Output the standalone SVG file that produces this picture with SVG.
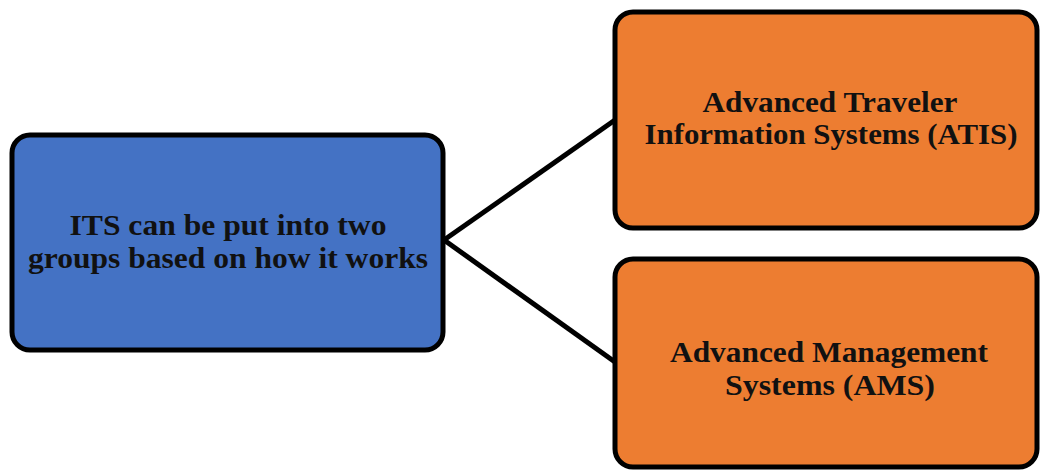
<svg xmlns="http://www.w3.org/2000/svg" width="1040" height="470" viewBox="0 0 1040 470">
<style>
.box{stroke:#000;stroke-width:5}
.blue{fill:#4472C4}
.orange{fill:#ED7D31}
.t{font-family:"Liberation Serif","Times New Roman",serif;font-weight:bold;font-size:29px;fill:#111;text-anchor:middle}
.c{stroke:#000;stroke-width:5;fill:none}
</style>
<rect width="1040" height="470" fill="#fff"/>
<g id="connectors">
<line class="c" x1="444" y1="240" x2="615" y2="120"/>
<line class="c" x1="444" y1="240" x2="615" y2="362"/>
</g>
<g id="node-its">
<rect class="box blue" x="12" y="135" width="431" height="215" rx="18"/>
<text class="t" x="228" y="235" textLength="317" lengthAdjust="spacingAndGlyphs">ITS can be put into two</text>
<text class="t" x="228" y="268" textLength="400" lengthAdjust="spacingAndGlyphs">groups based on how it works</text>
</g>
<g id="node-atis">
<rect class="box orange" x="615" y="12" width="422" height="216" rx="18"/>
<text class="t" x="830" y="112" textLength="255" lengthAdjust="spacingAndGlyphs">Advanced Traveler</text>
<text class="t" x="831" y="144" textLength="373" lengthAdjust="spacingAndGlyphs">Information Systems (ATIS)</text>
</g>
<g id="node-ams">
<rect class="box orange" x="615" y="259" width="422" height="208" rx="18"/>
<text class="t" x="829" y="362" textLength="318" lengthAdjust="spacingAndGlyphs">Advanced Management</text>
<text class="t" x="830" y="395" textLength="210" lengthAdjust="spacingAndGlyphs">Systems (AMS)</text>
</g>
</svg>
